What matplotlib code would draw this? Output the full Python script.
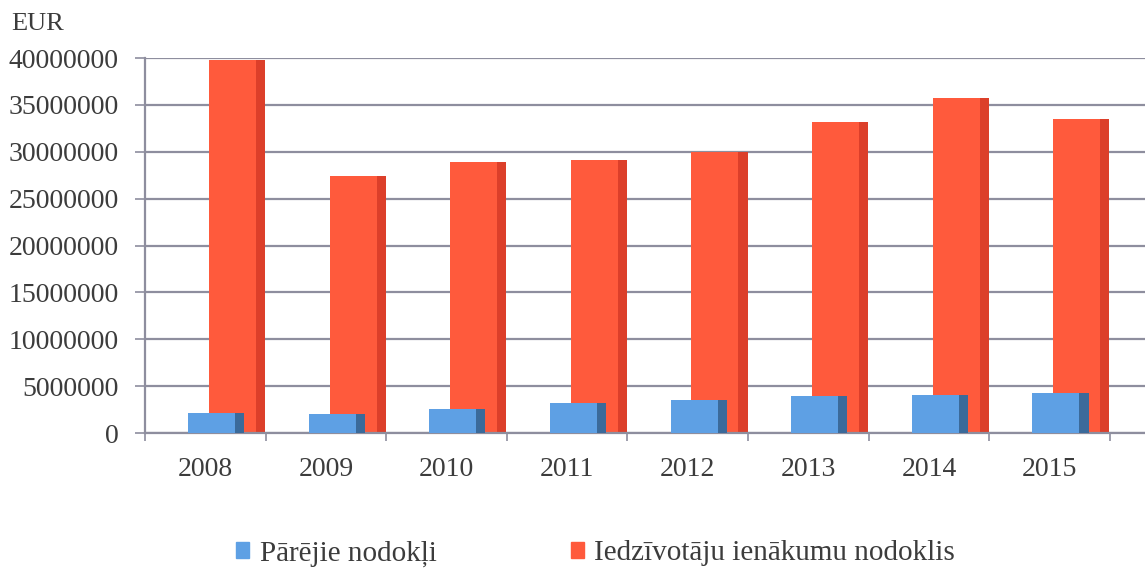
import numpy as np
import matplotlib
matplotlib.use("Agg")
import matplotlib.pyplot as plt
from matplotlib.patches import Patch


# ================= DATA =================
years = ["2008", "2009", "2010", "2011", "2012", "2013", "2014", "2015"]
other_taxes = [2.1e6, 2.0e6, 2.6e6, 3.2e6, 3.5e6, 3.9e6, 4.1e6, 4.3e6]
income_tax = [39.8e6, 27.4e6, 28.9e6, 29.1e6, 30.0e6, 33.2e6, 35.7e6, 33.5e6]
y_ticks = [0, 5000000, 10000000, 15000000, 20000000, 25000000,
           30000000, 35000000, 40000000]

label_other = "Pārējie nodokļi"
label_income = "Iedzīvotāju ienākumu nodoklis"

# ================= STYLE =================
red_face = "#FF5A3C"
red_side = "#DC3F2A"
blue_face = "#5EA0E4"
blue_side = "#3B6A9A"
grid_col = "#8E8E9E"
text_col = "#3C3C3C"

plt.rcParams["font.family"] = ["Liberation Serif", "DejaVu Serif"]

fig = plt.figure(figsize=(11.45, 5.69), dpi=100)
ax = fig.add_axes([0.1266, 0.239, 0.8734, 0.659])

x = np.arange(len(years))
face_w = 0.39
side_w = 0.075

# red bars (back), face + darker side strip
ax.bar(x + 0.53, income_tax, width=face_w, align="edge",
       color=red_face, zorder=2)
ax.bar(x + 0.53 + face_w, income_tax, width=side_w, align="edge",
       color=red_side, zorder=2)

# blue bars (front)
ax.bar(x + 0.357, other_taxes, width=face_w, align="edge",
       color=blue_face, zorder=3)
ax.bar(x + 0.357 + face_w, other_taxes, width=side_w, align="edge",
       color=blue_side, zorder=3)

ax.set_xlim(0, 8.29)
ax.set_ylim(0, 40000000)

ax.set_yticks(y_ticks)
ax.set_yticklabels([str(v) for v in y_ticks])
ax.yaxis.grid(True, color=grid_col, linewidth=1.6, zorder=1)
ax.set_axisbelow(True)

# category boundaries as major ticks, year labels as minor ticks
ax.set_xticks(np.arange(0, len(years) + 1))
ax.set_xticklabels([])
ax.set_xticks(x + 0.5, minor=True)
ax.set_xticklabels(years, minor=True)

ax.tick_params(axis="x", which="major", length=6, width=1.2,
               color=grid_col, direction="out")
ax.tick_params(axis="x", which="minor", length=0, pad=17,
               labelsize=20, labelcolor=text_col)
ax.tick_params(axis="y", length=7, width=1.2, color=grid_col,
               pad=12, labelsize=20, labelcolor=text_col)

for side in ["top", "right"]:
    ax.spines[side].set_visible(False)
for side in ["left", "bottom"]:
    ax.spines[side].set_color(grid_col)
    ax.spines[side].set_linewidth(1.6)

fig.text(0.010, 0.958, "EUR", fontsize=19, color=text_col,
         ha="left", va="center")

handles = [Patch(color=blue_face, label=label_other),
           Patch(color=red_face, label=label_income)]
fig.legend(handles=handles, loc="center", bbox_to_anchor=(0.52, 0.027),
           ncol=2, frameon=False, fontsize=21, labelcolor=text_col,
           handlelength=0.45, handleheight=0.45, handletextpad=0.35,
           columnspacing=4.6)

fig.savefig("out.png", dpi=100)
